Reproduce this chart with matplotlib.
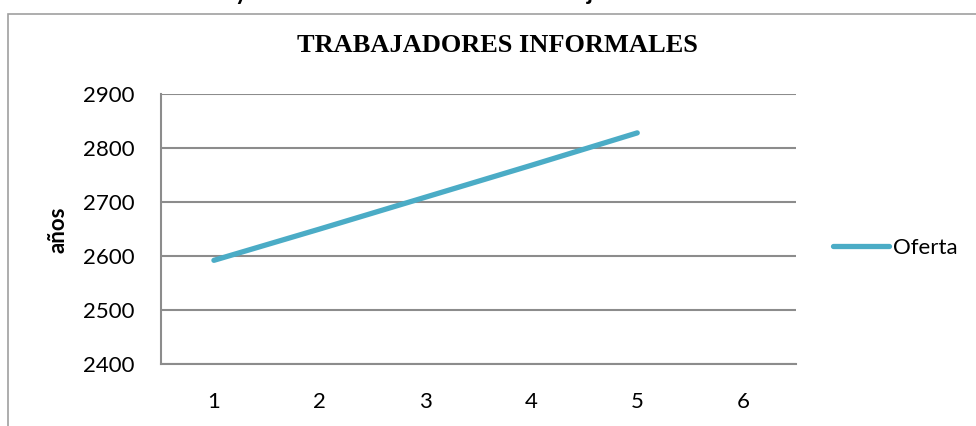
import matplotlib.pyplot as plt
import numpy as np
from matplotlib.patches import Rectangle

CATEGORIES = [1, 2, 3, 4, 5, 6]
OFERTA = [2592, 2650, 2709, 2768, 2828, np.nan]
Y_TICKS = [2400, 2500, 2600, 2700, 2800, 2900]

LINE_COLOR = "#4BACC6"
GRID_COLOR = "#8C8C8C"
W, H = 976, 426

fig = plt.figure(figsize=(W / 100, H / 100), dpi=100)

# descenders of the document text cut off above the chart
fig.text(241 / W, 1.0, "y", ha="center", va="baseline", fontsize=17,
         fontweight="bold", family="Lato")
fig.text(590 / W, 1.0, "j", ha="center", va="baseline", fontsize=17,
         fontweight="bold", family="Lato")

# outer chart border (cut off on right and bottom in the source)
fig.patches.append(Rectangle((8 / W, -0.1), 1.2, (H - 14) / H + 0.1,
                             transform=fig.transFigure, fill=False,
                             edgecolor="#A0A0A0", linewidth=1.2))

ax = fig.add_axes([161 / W, (H - 364) / H, (796 - 161) / W, (364 - 94) / H])
ax.plot(CATEGORIES, OFERTA, color=LINE_COLOR, linewidth=3.8,
        solid_capstyle="round", label="Oferta")

ax.set_xlim(0.5, 6.5)
ax.set_ylim(2400, 2900)
ax.set_xticks(CATEGORIES)
ax.set_yticks(Y_TICKS)
ax.grid(axis="y", color=GRID_COLOR, linewidth=1.5)
ax.set_axisbelow(True)
for side in ["top", "right"]:
    ax.spines[side].set_visible(False)
for side in ["left", "bottom"]:
    ax.spines[side].set_color(GRID_COLOR)
    ax.spines[side].set_linewidth(1.5)
ax.tick_params(length=0, labelsize=16)
ax.tick_params(axis="y", pad=19)
ax.tick_params(axis="x", pad=20)
for label in ax.get_xticklabels() + ax.get_yticklabels():
    label.set_fontfamily("Lato")

fig.text(58 / W, 1 - 230 / H, "años", rotation=90, ha="center", va="center",
         fontsize=16, fontweight="bold", family="Lato")

fig.text(497 / W, 1 - 46 / H, "TRABAJADORES INFORMALES", ha="center", va="center",
         fontsize=19, fontweight="bold", family="Liberation Serif")

leg = ax.legend(loc="center left", bbox_to_anchor=(833 / W, 1 - 248 / H),
                bbox_transform=fig.transFigure, frameon=False,
                prop={"family": "Lato", "size": 16}, handlelength=2.5,
                handletextpad=0.2, borderaxespad=0, borderpad=0)

fig.savefig("out.png", dpi=100)
